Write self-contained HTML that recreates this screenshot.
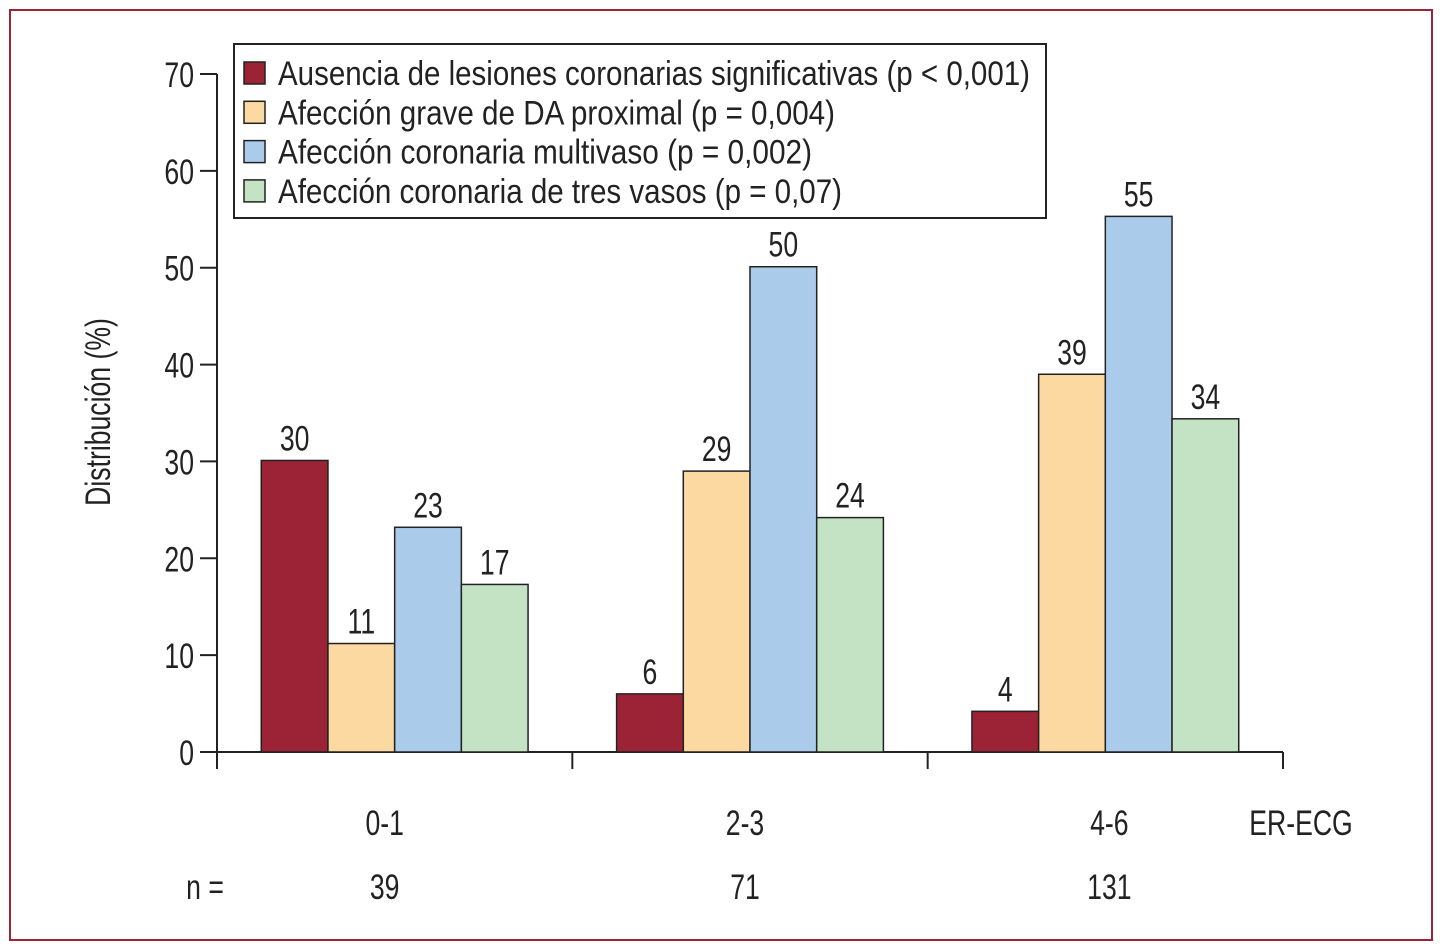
<!DOCTYPE html>
<html><head><meta charset="utf-8">
<style>
html,body{margin:0;padding:0;background:#fff;}
svg{display:block;font-family:"Liberation Sans Narrow","Liberation Sans",sans-serif;}
</style></head>
<body>
<svg id="chart" width="1450" height="950" viewBox="0 0 1450 950" xmlns="http://www.w3.org/2000/svg">
<rect x="10" y="10" width="1422" height="930" fill="none" stroke="#9b2335" stroke-width="2"/>
<g id="axes"></g>
<g id="bars"></g>
<g id="legend">
<rect x="234" y="44" width="812" height="174" fill="#fff" stroke="#222" stroke-width="2"/>
</g>
</svg>
<script>
const categories = ["0-1", "2-3", "4-6"];
const nValues = ["39", "71", "131"];
const seriesNames = ["Ausencia de lesiones coronarias significativas (p < 0,001)", "Afección grave de DA proximal (p = 0,004)", "Afección coronaria multivaso (p = 0,002)", "Afección coronaria de tres vasos (p = 0,07)"];
const ausencia = [30.1, 6.0, 4.2];
const daProximal = [11.2, 29.0, 39.0];
const multivaso = [23.2, 50.1, 55.3];
const tresVasos = [17.3, 24.2, 34.4];
const valueLabels = [["30","6","4"],["11","29","39"],["23","50","55"],["17","24","34"]];
const yTicks = [0,10,20,30,40,50,60,70];

const series = [ausencia, daProximal, multivaso, tresVasos];
const colors = ["#9b2335","#fdd9a2","#abcbea","#c4e3c4"];
const NS = "http://www.w3.org/2000/svg";
const x0 = 217, x1 = 1283, y0 = 752, yTop = 74, yMax = 70;
const yScale = v => y0 - (v / yMax) * (y0 - yTop);
const groupW = (x1 - x0) / categories.length;
const barW = 66.7;
const xBar = (g, s) => x0 + g * groupW + (groupW - barW * series.length) / 2 + s * barW;
const SX = 0.76;
const FS = 35;
const labelNudge = [-10, -5, 4];

function mk(tag, attrs, parent, text) {
  const e = document.createElementNS(NS, tag);
  for (const k in attrs) e.setAttribute(k, attrs[k]);
  if (text !== undefined) e.textContent = text;
  parent.appendChild(e);
  return e;
}
function txt(x, y, anchor, str, parent, rot) {
  const tr = rot ? `translate(${x},${y}) rotate(-90) scale(${SX},1)` : `translate(${x},${y}) scale(${SX},1)`;
  return mk('text', {x:0, y:0, 'text-anchor':anchor, 'font-size':FS, fill:'#222', transform:tr}, parent, str);
}
const axes = document.getElementById('axes');
const bars = document.getElementById('bars');
const legend = document.getElementById('legend');

const yAxis = mk('line', {x1:x0, y1:yTop, x2:x0, y2:y0, stroke:'#222', 'stroke-width':2}, axes);


const xAxis = mk('line', {x1:x0, y1:y0, x2:x1, y2:y0, stroke:'#222', 'stroke-width':2}, axes);



yTicks.forEach(t => {
  const y = yScale(t);
  mk('line', {x1:200, y1:y, x2:x0, y2:y, stroke:'#222', 'stroke-width':2}, axes);
  const lb = txt(194, y + 13, 'end', String(t), axes);
  
  
});
for (let g = 0; g <= categories.length; g++) {
  const x = x0 + g * groupW;
  mk('line', {x1:x, y1:y0, x2:x, y2:769, stroke:'#222', 'stroke-width':2}, axes);
}
categories.forEach((c, g) => {
  const cx = x0 + g * groupW + groupW / 2 + labelNudge[g];
  const lb = txt(cx, 835, 'middle', c, axes);
  
  
  const nl = txt(cx, 899, 'middle', nValues[g], axes);
  
  
});
const er = txt(1301, 835, 'middle', 'ER-ECG', axes);


const neq = txt(205, 899, 'middle', 'n =', axes);


const yt = txt(110, 412, 'middle', 'Distribución (%)', axes, true);



series.forEach((vals, s) => {
  vals.forEach((v, g) => {
    const x = xBar(g, s), y = yScale(v);
    const r = mk('rect', {x:x, y:y, width:barW, height:y0 - y, fill:colors[s], stroke:'#222', 'stroke-width':1.5}, bars);
    
    
    const t = txt(x + barW/2, y - 10, 'middle', valueLabels[s][g], bars);
    
    
  });
});

const legendWidths = [752, 557, 534, 564];
seriesNames.forEach((n, i) => {
  const cy = 73 + i * 39.3;
  const sw = mk('rect', {x:244, y:cy - 11, width:21, height:22, fill:colors[i], stroke:'#222', 'stroke-width':1.5}, legend);
  
  
  const t = mk('text', {x:278, y:cy + 12, 'font-size':34, fill:'#222', textLength:legendWidths[i], lengthAdjust:'spacingAndGlyphs'}, legend, n);
  
  
});
</script>
</body></html>
